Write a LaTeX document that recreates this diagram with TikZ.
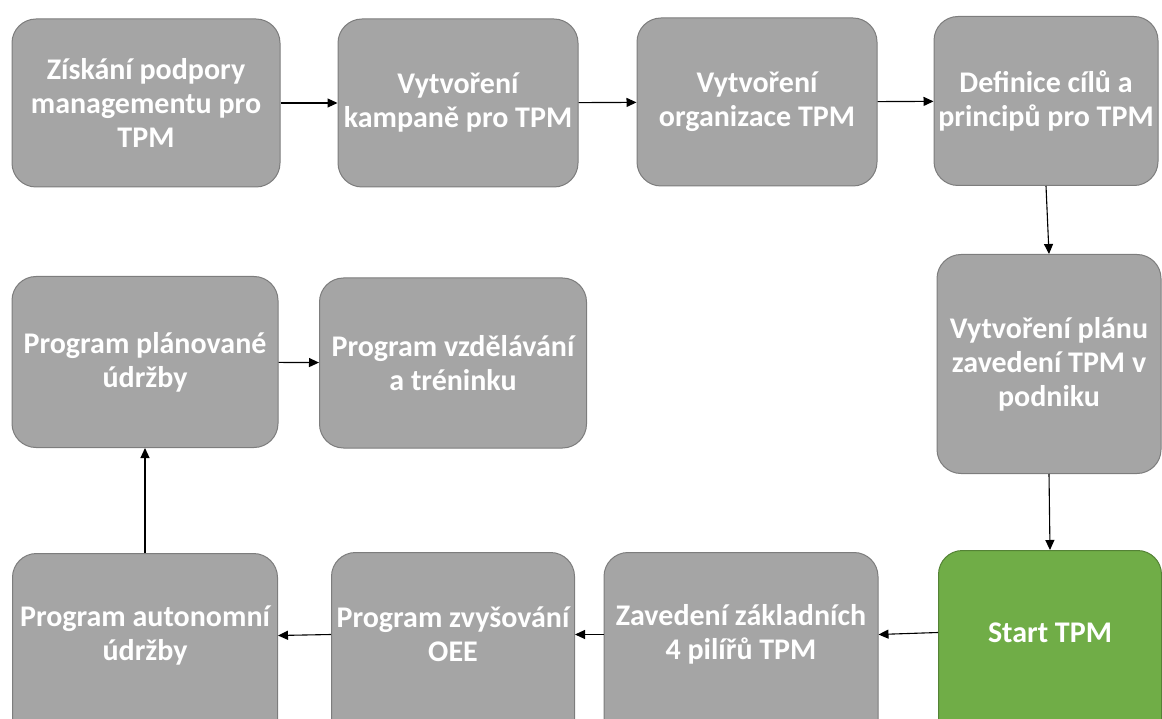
\documentclass[tikz,border=0pt]{standalone}
\usepackage{fontspec}
\setmainfont{Carlito}
\usetikzlibrary{arrows.meta}

\definecolor{boxgray}{RGB}{165,165,165}
\definecolor{boxline}{RGB}{125,125,125}
\definecolor{startgreen}{RGB}{112,173,71}
\definecolor{startline}{RGB}{84,130,53}

\tikzset{
  stepbox/.style={draw=boxline, fill=boxgray, line width=1pt,
    rounded corners=24pt, inner xsep=0pt, inner ysep=0pt,
    text=white, align=flush center,
    font=\fontsize{30}{34}\selectfont\bfseries},
  lowbox/.style={stepbox, anchor=north, minimum height=200pt,
    execute at end node={\par\vspace*{36pt}}},
  startbox/.style={lowbox, draw=startline, fill=startgreen},
  flow/.style={-{Triangle[length=10pt,width=9pt]}, line width=1.1pt},
}

\begin{document}
\begin{tikzpicture}[x=1pt, y=-1pt]
  \useasboundingbox (0,0) rectangle (1162,719);
  \clip (0,0) rectangle (1162,719);

  % top row
  \node [stepbox, text width=268pt, minimum height=168pt] (b1) at (146,103)
    {Získání podpory\\managementu pro\\TPM};
  \node [stepbox, text width=240pt, minimum height=168pt] (b2) at (458,103)
    {Vytvoření\\kampaně pro TPM};
  \node [stepbox, text width=240pt, minimum height=168pt] (b3) at (757,102)
    {Vytvoření\\organizace TPM};
  \node [stepbox, text width=224pt, minimum height=169pt] (b4) at (1046,101)
    {Definice cílů a\\principů pro TPM};

  % right column
  \node [stepbox, text width=224pt, minimum height=219pt] (b5) at (1049,364)
    {Vytvoření plánu\\zavedení TPM v\\podniku};

  % bottom row
  \node [startbox, text width=223pt] (b6) at (1050,550) {Start TPM};
  \node [lowbox, text width=274pt] (b7) at (741,552)
    {Zavedení základních\\4 pilířů TPM};
  \node [lowbox, text width=243pt] (b8) at (453,552)
    {Program zvyšování\\OEE};
  \node [lowbox, text width=265pt] (b9) at (145,553)
    {Program autonomní\\údržby};

  % middle row
  \node [stepbox, text width=266pt, minimum height=171pt] (b10) at (145,362)
    {Program plánované\\údržby};
  \node [stepbox, text width=267pt, minimum height=170pt] (b11) at (453,363)
    {Program vzdělávání\\a tréninku};

  \draw [flow] (b1) -- (b2);
  \draw [flow] (b2) -- (b3);
  \draw [flow] (b3) -- (b4);
  \draw [flow] (b4.south) -- (b5.north);
  \draw [flow] (b5.south) -- (b6.north);
  \draw [flow] ([yshift=18pt]b6.west) -- ([yshift=18pt]b7.east);
  \draw [flow] ([yshift=18pt]b7.west) -- ([yshift=18pt]b8.east);
  \draw [flow] ([yshift=18pt]b8.west) -- ([yshift=18pt]b9.east);
  \draw [flow] (b9.north) -- (b10.south);
  \draw [flow] (b10) -- (b11);
\end{tikzpicture}
\end{document}
